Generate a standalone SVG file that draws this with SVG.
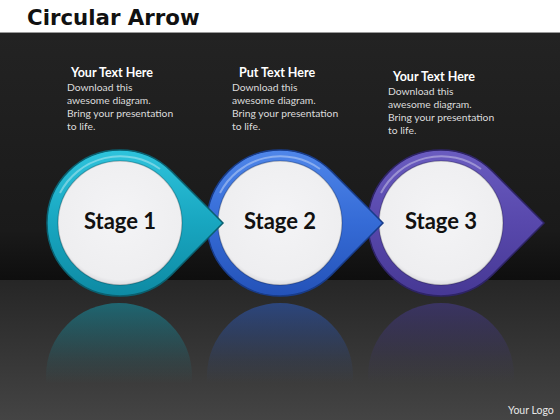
<svg xmlns="http://www.w3.org/2000/svg" width="560" height="420" viewBox="0 0 560 420">
<defs>
<linearGradient id="bg" x1="0" y1="0" x2="0" y2="1">
<stop offset="0" stop-color="#232323"/><stop offset="0.8" stop-color="#1a1a1a"/><stop offset="1" stop-color="#0e0e0e"/>
</linearGradient>
<linearGradient id="floor" x1="0" y1="0" x2="0" y2="1">
<stop offset="0" stop-color="#262626"/><stop offset="1" stop-color="#444444"/>
</linearGradient>
<linearGradient id="g1" x1="0" y1="0" x2="0" y2="1">
<stop offset="0" stop-color="#2ec3dc"/><stop offset="0.5" stop-color="#18a6c0"/><stop offset="1" stop-color="#0e8aa3"/>
</linearGradient>
<linearGradient id="g2" x1="0" y1="0" x2="0" y2="1">
<stop offset="0" stop-color="#4f86ea"/><stop offset="0.5" stop-color="#356bd6"/><stop offset="1" stop-color="#2452b8"/>
</linearGradient>
<linearGradient id="g3" x1="0" y1="0" x2="0" y2="1">
<stop offset="0" stop-color="#6a5cc0"/><stop offset="0.5" stop-color="#5848ac"/><stop offset="1" stop-color="#463894"/>
</linearGradient>
<linearGradient id="r1" x1="0" y1="0" x2="0" y2="1">
<stop offset="0" stop-color="#1a7f8f" stop-opacity="0.7"/><stop offset="0.4" stop-color="#1a7f8f" stop-opacity="0.15"/><stop offset="0.55" stop-color="#1a7f8f" stop-opacity="0"/>
</linearGradient>
<linearGradient id="r2" x1="0" y1="0" x2="0" y2="1">
<stop offset="0" stop-color="#2d4f98" stop-opacity="0.75"/><stop offset="0.4" stop-color="#2d4f98" stop-opacity="0.15"/><stop offset="0.55" stop-color="#2d4f98" stop-opacity="0"/>
</linearGradient>
<linearGradient id="r3" x1="0" y1="0" x2="0" y2="1">
<stop offset="0" stop-color="#3e3670" stop-opacity="0.8"/><stop offset="0.4" stop-color="#3e3670" stop-opacity="0.15"/><stop offset="0.55" stop-color="#3e3670" stop-opacity="0"/>
</linearGradient>
<radialGradient id="inner" cx="0.5" cy="0.45" r="0.55">
<stop offset="0" stop-color="#f4f4f6"/><stop offset="0.92" stop-color="#eeeef0"/><stop offset="1" stop-color="#dcdce0"/>
</radialGradient>
<path id="drop" d="M103 0 L51.6 -51.6 A73 73 0 1 0 51.6 51.6 Z"/>
</defs>
<style>
.h{font-family:Lato,"Open Sans",sans-serif;font-weight:bold;font-size:12.5px;fill:#ffffff}
.b{font-family:Lato,"Liberation Sans",sans-serif;font-size:10.3px;fill:#dcdcdc}
.st{font-family:Lato,"Open Sans",sans-serif;font-weight:bold;font-size:22px;fill:#111111;text-anchor:middle}
.shade{fill:none;stroke:#000;stroke-opacity:0.2;stroke-width:1.5}
.hl{fill:none;stroke:#ffffff;stroke-opacity:0.35;stroke-width:2}
</style>
<rect x="0" y="0" width="560" height="32" fill="#ffffff"/>
<rect x="0" y="32" width="560" height="248" fill="url(#bg)"/>
<rect x="0" y="32" width="560" height="1" fill="#9a9a9a"/>
<rect x="0" y="280" width="560" height="140" fill="url(#floor)"/>
<text x="27" y="25" font-family="'DejaVu Sans','Liberation Sans',sans-serif" font-weight="bold" font-size="21.3" fill="#111">Circular Arrow</text>

<g id="text1">
<text class="h" x="71" y="77">Your Text Here</text>
<text class="b" x="67" y="91">Download this</text>
<text class="b" x="67" y="104">awesome diagram.</text>
<text class="b" x="67" y="117">Bring your presentation</text>
<text class="b" x="67" y="130">to life.</text>
</g>
<g id="text2">
<text class="h" x="239" y="77">Put Text Here</text>
<text class="b" x="232" y="91">Download this</text>
<text class="b" x="232" y="104">awesome diagram.</text>
<text class="b" x="232" y="117">Bring your presentation</text>
<text class="b" x="232" y="130">to life.</text>
</g>
<g id="text3">
<text class="h" x="393" y="81">Your Text Here</text>
<text class="b" x="388" y="95">Download this</text>
<text class="b" x="388" y="108">awesome diagram.</text>
<text class="b" x="388" y="121">Bring your presentation</text>
<text class="b" x="388" y="134">to life.</text>
</g>

<g id="reflections">
<circle cx="119" cy="376" r="73" fill="url(#r1)"/>
<circle cx="280" cy="376" r="73" fill="url(#r2)"/>
<circle cx="441" cy="376" r="73" fill="url(#r3)"/>
</g>

<g id="stage3" transform="translate(441,223)">
<use href="#drop" fill="url(#g3)" stroke="#2e2466" stroke-width="1.5"/>
<path d="M-60 -30 A68 68 0 0 1 40 -54" class="hl"/>
<circle r="62" fill="url(#inner)"/>
<circle r="62" class="shade"/>
<text class="st" y="6">Stage 3</text>
</g>
<g id="stage2" transform="translate(280,223)">
<use href="#drop" fill="url(#g2)" stroke="#183c8a" stroke-width="1.5"/>
<path d="M-60 -30 A68 68 0 0 1 40 -54" class="hl"/>
<circle r="62" fill="url(#inner)"/>
<circle r="62" class="shade"/>
<text class="st" y="6">Stage 2</text>
</g>
<g id="stage1" transform="translate(120,223)">
<use href="#drop" fill="url(#g1)" stroke="#0a6070" stroke-width="1.5"/>
<path d="M-60 -30 A68 68 0 0 1 40 -54" class="hl"/>
<circle r="62" fill="url(#inner)"/>
<circle r="62" class="shade"/>
<text class="st" y="6">Stage 1</text>
</g>

<text x="508" y="414" font-family="Lato,'Liberation Sans',sans-serif" font-size="10.5" fill="#e6e6e6">Your Logo</text>
</svg>
